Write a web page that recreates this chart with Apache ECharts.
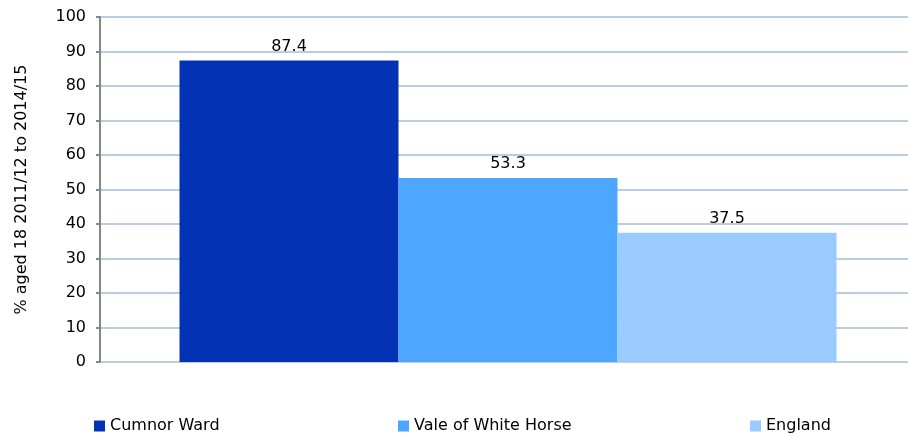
<!DOCTYPE html>
<html><head><meta charset="utf-8">
<script src="https://cdn.jsdelivr.net/npm/echarts@6/dist/echarts.min.js"></script>
<style>html,body{margin:0;padding:0;background:#fff}#c{width:908px;height:436px}</style>
</head><body><div id="c"></div>
<script>
const categories = [''];
const seriesNames = ['Cumnor Ward', 'Vale of White Horse', 'England'];
const cumnorWard = [87.4];
const valeOfWhiteHorse = [53.3];
const england = [37.5];
const yTicks = [0, 10, 20, 30, 40, 50, 60, 70, 80, 90, 100];
const colors = ['#0432b4', '#4da6ff', '#99cbff'];
const font = 'DejaVu Sans, sans-serif';
const values = [cumnorWard, valeOfWhiteHorse, england];
const legendLefts = [94, 398, 750];
const chart = echarts.init(document.getElementById('c'));
chart.setOption({
  animation: false,
  textStyle: {fontFamily: font},
  grid: {left: 100, width: 816, top: 17, bottom: 74, outerBoundsMode: 'none', containLabel: false},
  legend: seriesNames.map((n, i) => ({
    data: [n], left: legendLefts[i], top: 418, padding: 0, icon: 'rect', itemWidth: 11, itemHeight: 11, itemGap: 8,
    textStyle: {fontFamily: font, fontSize: 16, color: '#000'}
  })),
  xAxis: {
    type: 'category', data: categories,
    axisLine: {show: false}, axisTick: {show: false}, axisLabel: {show: false}
  },
  yAxis: {
    type: 'value', min: yTicks[0], max: yTicks[yTicks.length - 1], interval: 10,
    name: '% aged 18 2011/12 to 2014/15', nameLocation: 'middle', nameGap: 70,
    nameTextStyle: {fontFamily: font, fontSize: 16, color: '#000'},
    axisLine: {show: true, lineStyle: {color: '#868686', width: 2}},
    axisTick: {show: true, length: 4, lineStyle: {color: '#868686', width: 2}},
    axisLabel: {fontFamily: font, fontSize: 16, color: '#000', margin: 14},
    splitLine: {lineStyle: {color: '#b9cde5', width: 2}}
  },
  series: seriesNames.map((n, i) => ({
    name: n, type: 'bar', data: values[i], barWidth: 219, barGap: '0%',
    itemStyle: {color: colors[i]},
    label: {show: true, position: 'top', distance: 6, fontFamily: font, fontSize: 16, color: '#000',
      formatter: p => p.value.toFixed(1)}
  }))
});
</script></body></html>
